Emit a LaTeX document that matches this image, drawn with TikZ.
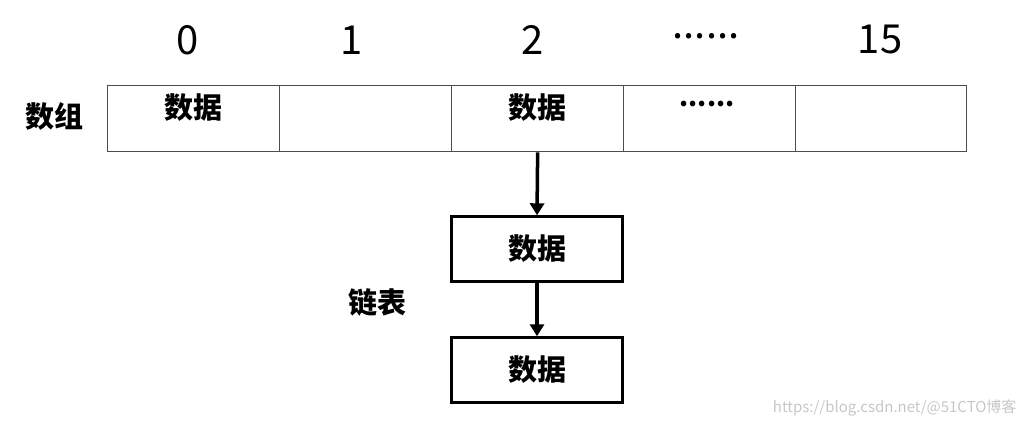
\documentclass[tikz,border=0pt]{standalone}
\usepackage{fontspec}
\newfontfamily\cjk{Noto Sans CJK SC}
\usetikzlibrary{arrows.meta}
\begin{document}
\begin{tikzpicture}[x=1pt,y=-1pt,
  cell/.style={draw=black!70,line width=1.3pt,minimum width=172pt,minimum height=66pt,inner sep=0pt,anchor=north west},
  listbox/.style={draw=black,line width=2.4pt,minimum width=171pt,minimum height=65pt,inner sep=0pt,font=\cjk\bfseries\fontsize{29}{33}\selectfont},
  idx/.style={font=\cjk\fontsize{40}{46}\selectfont},
  celltxt/.style={font=\cjk\bfseries\fontsize{29}{33}\selectfont},
  lbl/.style={font=\cjk\bfseries\fontsize{29}{33}\selectfont},
  link/.style={line width=3.5pt,-{Triangle[length=12pt,width=14pt]}}]
\useasboundingbox (0,0) rectangle (1028,427);
% array cells
\node[cell] (c0) at (107,85) {};
\node[cell] (c1) at (279,85) {};
\node[cell] (c2) at (451,85) {};
\node[cell] (c3) at (623,85) {};
\node[cell,minimum width=171pt] (c4) at (795,85) {};
% cell texts
\node[celltxt] (t0) at (193,108) {数据};
\node[celltxt] (t2) at (537,108) {数据};
\node[font=\cjk\bfseries\fontsize{26}{30}\selectfont] (t3) at (707,104) {......};
% indices
\node[idx] (i0) at (188,40) {0};
\node[idx] (i1) at (352,40) {1};
\node[idx] (i2) at (533,40) {2};
\node[idx] (i3) at (706,36) {......};
\node[idx] (i4) at (880,40) {15};
% labels
\node[lbl] (arr) at (54,116) {数组};
\node[lbl] (lst) at (377,302) {链表};
% linked list
\node[listbox] (b1) at (537,249) {数据};
\node[listbox] (b2) at (537,370) {数据};
\draw[link] (c2.south) -- (b1.north);
\draw[link] (b1.south) -- (b2.north);
% watermark
\node[font=\cjk\fontsize{15}{18}\selectfont,text=black!22,anchor=east] (wm) at (1020,408) {https://blog.csdn.net/@51CTO博客};
\end{tikzpicture}
\end{document}
